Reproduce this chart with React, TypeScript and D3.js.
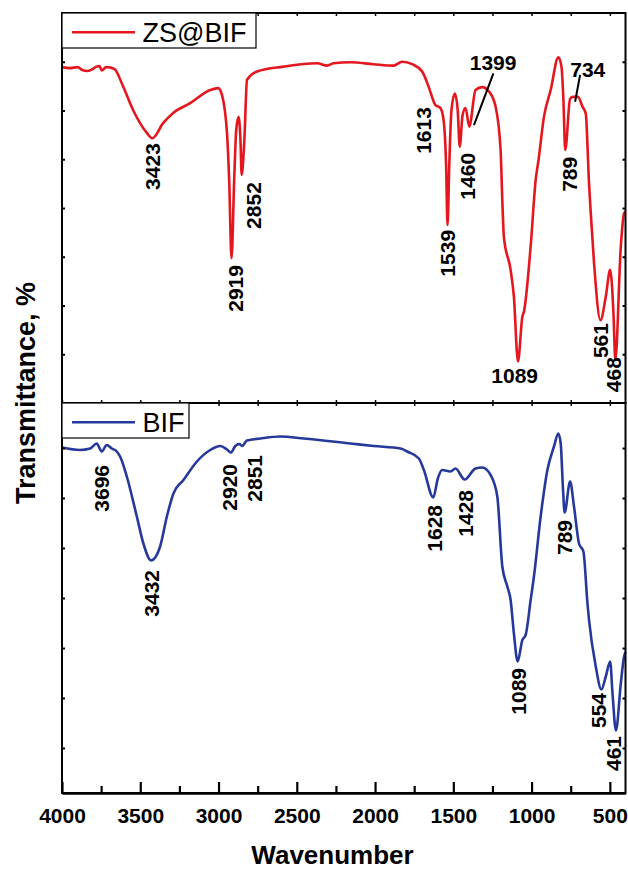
import React, { useEffect, useRef } from "react";
import * as d3 from "d3";

// ZS@BIF spectrum (top panel) – wavenumber, transmittance
const redWn = [4000, 3950, 3900, 3870, 3840, 3810, 3780, 3760, 3746, 3718, 3690, 3661, 3618, 3546, 3458, 3423, 3354, 3290, 3181, 3053, 3002, 2978, 2946, 2932, 2917, 2900, 2887, 2872, 2860, 2852, 2835, 2818, 2754, 2586, 2370, 2306, 2266, 2157, 2010, 1882, 1827, 1763, 1699, 1658, 1614, 1582, 1562, 1546, 1537, 1526, 1512, 1490, 1472, 1459, 1441, 1422, 1398, 1358, 1315, 1272, 1230, 1198, 1187, 1177, 1134, 1113, 1087, 1059, 1049, 1006, 974, 955, 921, 878, 829, 809, 797, 785, 754, 735, 703, 675, 654, 633, 622, 601, 560, 526, 498, 477, 465, 430, 409, 400];
const redT = [68.9, 68.7, 68.9, 68.3, 68.1, 68.4, 69.0, 69.1, 68.2, 68.9, 68.8, 68.4, 65.6, 60.1, 55.4, 54.3, 57.4, 59.5, 61.5, 64.2, 64.6, 63.2, 55.4, 45.7, 29.7, 45.7, 56, 58.7, 54, 46.8, 54, 66.3, 68, 69, 69.7, 69.2, 69.7, 69.9, 69.5, 69.2, 70, 69.5, 68, 64.9, 61.1, 60.5, 58, 48.6, 36.5, 48.6, 60, 63.5, 60, 52.6, 59, 60.5, 56.7, 64.2, 64.8, 63.9, 60.8, 51.9, 41.6, 34.1, 27.3, 21.8, 8.5, 17.7, 18.7, 32.1, 45.7, 50, 58.7, 64.2, 70.9, 69, 62.4, 51.9, 62.4, 62.8, 62.8, 60.8, 59.4, 45, 39, 28.7, 17, 21.8, 27.3, 18.5, 8.8, 32.1, 38.9, 39.2];

// BIF spectrum (bottom panel)
const blueWn = [4000, 3885, 3821, 3778, 3746, 3714, 3682, 3650, 3629, 3586, 3522, 3480, 3431, 3373, 3330, 3288, 3224, 3138, 3053, 2989, 2946, 2921, 2893, 2866, 2850, 2818, 2733, 2605, 2456, 2157, 2008, 1837, 1795, 1720, 1688, 1628, 1599, 1571, 1518, 1486, 1428, 1358, 1315, 1262, 1219, 1187, 1155, 1134, 1113, 1089, 1059, 1038, 1006, 985, 942, 899, 857, 829, 814, 799, 789, 754, 729, 697, 669, 643, 633, 590, 554, 526, 498, 483, 461, 430, 409, 400];
const blueT = [69.1, 68.6, 68.9, 69.9, 68.3, 69.6, 68.9, 68.3, 67.3, 63.3, 55.3, 49.9, 46.5, 49.3, 55.3, 59.9, 62.6, 66.3, 68.6, 69.4, 68.7, 68.1, 69.4, 69.8, 69.4, 70.5, 70.9, 71.3, 70.9, 69.9, 69.4, 68.9, 68.3, 66.9, 64.6, 59.1, 62.9, 64.6, 64.3, 64.9, 62.7, 64.9, 65.1, 63.6, 59.3, 45.3, 41.3, 38.6, 31.9, 26.3, 30.6, 31.6, 38.6, 43.3, 55.3, 64.6, 69.3, 71.9, 69.9, 60.6, 56.1, 62.3, 57.3, 49.9, 48.3, 37.9, 34.6, 25.3, 20.7, 23.3, 26.3, 19.9, 12.5, 21.9, 27.3, 28.2];

// peak labels: [text, wavenumber, transmittance at label top]
const redVertLabels = [["3423", 3421, 53.3], ["2919", 2893, 28.3], ["2852", 2778, 45.3], ["1613", 1693, 60.7], ["1539", 1537, 35.5], ["1460", 1409, 51.3], ["789", 759, 50.5], ["561", 558, 16.4], ["468", 475, 9.4]];
const blueVertLabels = [["3696", 3746, 65.6], ["3432", 3426, 44.6], ["2920", 2933, 65.8], ["2851", 2772, 67.6], ["1628", 1624, 57.6], ["1428", 1420, 60.6], ["789", 793, 54.6], ["1089", 1083, 25], ["554", 571, 20], ["461", 478, 11.4]];
// horizontal labels: [text, wavenumber, baseline transmittance]
const redHorizLabels = [["1089", 1108, 4.1], ["1399", 1246, 68.3], ["734", 641, 66.9]];
// leader lines: [wn1, T1, wn2, T2]
const redLeaders = [[1244, 67.6, 1368, 57.0], [690, 67.3, 722, 61.8]];

const xMajor = [4000, 3500, 3000, 2500, 2000, 1500, 1000, 500];
const xMinor = [3750, 3250, 2750, 2250, 1750, 1250, 750];
const topYTicks = [10, 20, 30, 40, 50, 60, 70];
const botYTicks = [9, 19, 29, 39, 49, 59, 69];

const RED = "#e4171f";
const BLUE = "#26399b";
const FONT = "'Liberation Sans', Arial, sans-serif";

export default function App() {
  const svgRef = useRef<SVGSVGElement>(null);

  useEffect(() => {
    const svg = d3.select(svgRef.current);
    svg.selectAll("*").remove();

    const x = d3.scaleLinear().domain([4000, 400]).range([62, 625.5]);
    const yTop = d3.scaleLinear().domain([0, 80]).range([403, 13]);
    const yBot = d3.scaleLinear().domain([0, 78]).range([793, 403]);
    const x0 = x(4000), x1 = x(400);

    const drawPanel = (y, wn, t, color, vLabels, legendText, legendW) => {
      const line = d3
        .line<number>()
        .x((d, i) => x(wn[i]))
        .y((d) => y(d))
        .curve(d3.curveMonotoneX);
      svg
        .append("path")
        .attr("d", line(t))
        .attr("fill", "none")
        .attr("stroke", color)
        .attr("stroke-width", 2.6)
        .attr("stroke-linejoin", "round");

      // rotated peak labels
      vLabels.forEach(([txt, w, tv]) => {
        svg
          .append("text")
          .attr("transform", `translate(${x(w) + 7.6},${y(tv)}) rotate(-90)`)
          .attr("text-anchor", "end")
          .attr("font-family", FONT)
          .attr("font-weight", "bold")
          .attr("font-size", 21)
          .text(txt);
      });

      const [yb, yt] = y.range();
      // frame
      svg
        .append("rect")
        .attr("x", x0)
        .attr("y", yt)
        .attr("width", x1 - x0)
        .attr("height", yb - yt)
        .attr("fill", "none")
        .attr("stroke", "#000")
        .attr("stroke-width", 2);

      // left/right ticks
      const yt2 = y === yTop ? topYTicks : botYTicks;
      svg
        .append("g")
        .attr("transform", `translate(${x0},0)`)
        .call(d3.axisLeft(y).tickValues(yt2).tickSizeInner(-3).tickSizeOuter(0).tickFormat(() => ""))
        .call((g) => g.select(".domain").remove())
        .selectAll("line")
        .attr("stroke-width", 2);
      svg
        .append("g")
        .attr("transform", `translate(${x1},0)`)
        .call(d3.axisRight(y).tickValues(yt2).tickSizeInner(-3).tickSizeOuter(0).tickFormat(() => ""))
        .call((g) => g.select(".domain").remove())
        .selectAll("line")
        .attr("stroke-width", 2);

      // top ticks of the panel
      svg
        .append("g")
        .attr("transform", `translate(0,${yt})`)
        .call(d3.axisTop(x).tickValues([...xMajor, ...xMinor]).tickSizeInner(-3).tickSizeOuter(0).tickFormat(() => ""))
        .call((g) => g.select(".domain").remove())
        .selectAll("line")
        .attr("stroke-width", 1.5);

      // legend
      const lh = 35;
      svg
        .append("rect")
        .attr("x", x0)
        .attr("y", yt)
        .attr("width", legendW)
        .attr("height", lh)
        .attr("fill", "#fff")
        .attr("stroke", "#000")
        .attr("stroke-width", 1.2);
      svg
        .append("line")
        .attr("x1", x0 + 10)
        .attr("x2", x0 + 73)
        .attr("y1", yt + 19.3)
        .attr("y2", yt + 19.3)
        .attr("stroke", color)
        .attr("stroke-width", 2.6);
      svg
        .append("text")
        .attr("x", x0 + 80.5)
        .attr("y", yt + 29.3)
        .attr("font-family", FONT)
        .attr("font-size", 27)
        .text(legendText);
    };

    drawPanel(yTop, redWn, redT, RED, redVertLabels, "ZS@BIF", 194);
    drawPanel(yBot, blueWn, blueT, BLUE, blueVertLabels, "BIF", 127);

    // horizontal labels + leaders in top panel
    redHorizLabels.forEach(([txt, w, tv]) => {
      svg
        .append("text")
        .attr("x", x(w))
        .attr("y", yTop(tv))
        .attr("text-anchor", "middle")
        .attr("font-family", FONT)
        .attr("font-weight", "bold")
        .attr("font-size", 21)
        .text(txt);
    });
    redLeaders.forEach(([w1, t1, w2, t2]) => {
      svg
        .append("line")
        .attr("x1", x(w1))
        .attr("y1", yTop(t1))
        .attr("x2", x(w2))
        .attr("y2", yTop(t2))
        .attr("stroke", "#000")
        .attr("stroke-width", 2);
    });

    // ticks on the shared middle border (pointing up into top panel)
    svg
      .append("g")
      .attr("transform", `translate(0,403)`)
      .call(d3.axisBottom(x).tickValues([...xMajor, ...xMinor]).tickSizeInner(-3).tickSizeOuter(0).tickFormat(() => ""))
      .call((g) => g.select(".domain").remove())
      .selectAll("line")
      .attr("stroke-width", 1.5);

    // bottom axis
    const gx = svg
      .append("g")
      .attr("transform", `translate(0,793)`)
      .call(d3.axisBottom(x).tickValues(xMajor).tickSizeInner(-11).tickSizeOuter(0).tickPadding(15).tickFormat(d3.format("d")));
    gx.select(".domain").attr("stroke-width", 2.5);
    gx.selectAll("line").attr("stroke-width", 2.2);
    gx.selectAll("text")
      .attr("font-family", FONT)
      .attr("font-weight", "bold")
      .attr("font-size", 21)
      .attr("fill", "#000");
    svg
      .append("g")
      .attr("transform", `translate(0,793)`)
      .call(d3.axisBottom(x).tickValues(xMinor).tickSizeInner(-7).tickSizeOuter(0).tickFormat(() => ""))
      .call((g) => g.select(".domain").remove())
      .selectAll("line")
      .attr("stroke-width", 2.2);

    // axis titles
    svg
      .append("text")
      .attr("x", 332.5)
      .attr("y", 864)
      .attr("text-anchor", "middle")
      .attr("font-family", FONT)
      .attr("font-weight", "bold")
      .attr("font-size", 26)
      .text("Wavenumber");
    svg
      .append("text")
      .attr("transform", "translate(35,393) rotate(-90)")
      .attr("text-anchor", "middle")
      .attr("font-family", FONT)
      .attr("font-weight", "bold")
      .attr("font-size", 27)
      .text("Transmittance, %");
  }, []);

  return (
    <div style={{ position: "absolute", left: 0, top: 0 }}>
      <svg ref={svgRef} width={628} height={871} style={{ display: "block", background: "#fff" }}></svg>
    </div>
  );
}
